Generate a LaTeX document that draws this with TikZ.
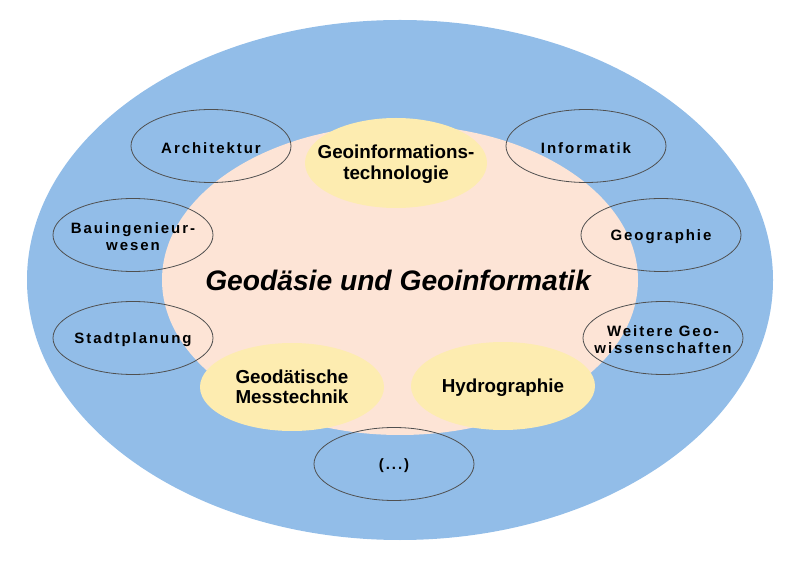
\documentclass[tikz,border=0pt]{standalone}
\usepackage{fontspec}
\setmainfont{Liberation Sans}
\newfontfamily\spc[LetterSpace=13]{Liberation Sans}
\usetikzlibrary{shapes.geometric}
\definecolor{outerblue}{RGB}{146,189,232}
\definecolor{innerpink}{RGB}{253,228,214}
\definecolor{fieldyellow}{RGB}{253,236,176}
\definecolor{ringgray}{RGB}{80,80,80}
\tikzset{
  disc/.style={ellipse, inner sep=0pt, draw=none},
  field/.style={ellipse, inner sep=0pt, fill=fieldyellow, draw=none, minimum width=184pt, minimum height=88pt},
  neighbour/.style={ellipse, inner sep=0pt, draw=ringgray, line width=0.8pt, minimum width=160pt, minimum height=73pt},
  fieldtext/.style={align=center, inner sep=0pt, font=\bfseries\fontsize{18.8}{20.5}\selectfont, text=black},
  neightext/.style={align=center, inner sep=0pt, yshift=-2pt, font=\spc\bfseries\fontsize{15}{17}\selectfont, text=black},
  titletext/.style={inner sep=0pt, font=\bfseries\itshape\fontsize{28.2}{32}\selectfont, text=black}
}
\begin{document}
\begin{tikzpicture}[x=1pt,y=1pt]
\useasboundingbox (0,0) rectangle (800,565);
% outer and inner discs
\node[disc, fill=outerblue, minimum width=746pt, minimum height=520pt] (outer) at (400,285) {};
\node[disc, fill=innerpink, minimum width=476pt, minimum height=310pt] (inner) at (400,285) {};
% core fields
\node[field, minimum width=182pt, minimum height=90pt] (geoit) at (396,402) {};
\node[field] (mess) at (292,178) {};
\node[field] (hydro) at (503,179) {};
% neighbouring disciplines
\node[neighbour] (arch) at (211,419) {};
\node[neighbour] (bau) at (133,330) {};
\node[neighbour] (stadt) at (133,227) {};
\node[neighbour] (info) at (586,419) {};
\node[neighbour] (geog) at (661,330) {};
\node[neighbour] (weit) at (663,227) {};
\node[neighbour] (etc) at (394,101) {};
% texts
\node[titletext] (title) at (398,285) {Geodäsie und Geoinformatik};
\node[fieldtext, yshift=-1pt] (geoitT) at (geoit) {Geoinformations-\\technologie};
\node[fieldtext] (messT) at (mess) {Geodätische\\Messtechnik};
\node[fieldtext, yshift=-2pt] (hydroT) at (hydro) {Hydrographie};
\node[neightext] (archT) at (arch) {Architektur};
\node[neightext] (bauT) at (bau) {Bauingenieur-\\wesen};
\node[neightext] (stadtT) at (stadt) {Stadtplanung};
\node[neightext] (infoT) at (info) {Informatik};
\node[neightext] (geogT) at (geog) {Geographie};
\node[neightext] (weitT) at (weit) {Weitere Geo-\\wissenschaften};
\node[neightext] (etcT) at (etc) {(...)};
\end{tikzpicture}
\end{document}
